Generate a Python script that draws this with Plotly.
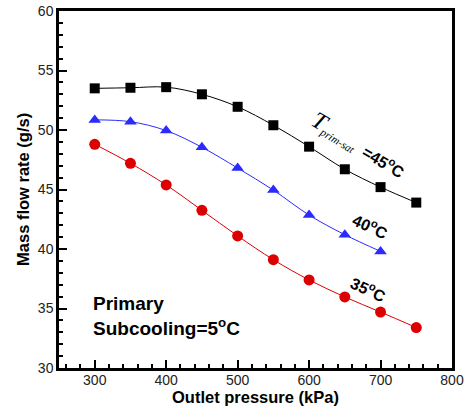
import plotly.graph_objects as go

pressure = [300, 350, 400, 450, 500, 550, 600, 650, 700, 750]
flow_45 = [53.5, 53.55, 53.6, 53.0, 51.95, 50.4, 48.6, 46.7, 45.2, 43.9]
pressure_40 = [300, 350, 400, 450, 500, 550, 600, 650, 700]
flow_40 = [50.85, 50.7, 49.95, 48.55, 46.8, 44.95, 42.85, 41.2, 39.8]
flow_35 = [48.8, 47.2, 45.38, 43.25, 41.1, 39.1, 37.4, 35.97, 34.7, 33.4]

fig = go.Figure()
series = [
    (pressure, flow_45, "black", "square", 10),
    (pressure_40, flow_40, "#2b2bff", "triangle-up", 11),
    (pressure, flow_35, "#dd0000", "circle", 11),
]
for xs, ys, col, sym, sz in series:
    fig.add_trace(go.Scatter(
        x=xs, y=ys, mode="lines+markers",
        line=dict(color=col, width=1, shape="spline", smoothing=1.0),
        marker=dict(color=col, symbol=sym, size=sz),
        showlegend=False, cliponaxis=False))

fig.update_layout(
    width=465, height=406,
    margin=dict(l=59, r=13, t=11, b=38),
    plot_bgcolor="white", paper_bgcolor="white",
    font=dict(family="Liberation Sans, Arial", size=14, color="#222"),
    xaxis=dict(range=[250, 800], dtick=100, tick0=300, automargin=False,
               ticklabeloverflow="allow", ticklabelstandoff=-3,
               ticks="inside", ticklen=8, tickwidth=1.5, tickcolor="black",
               minor=dict(ticks="inside", ticklen=4, dtick=20, tick0=300, tickcolor="black"),
               showline=True, linecolor="black", linewidth=2.5, mirror=True,
               showgrid=False, zeroline=False, tickfont=dict(size=14)),
    yaxis=dict(range=[30, 60], dtick=5, automargin=False,
               ticklabeloverflow="allow",
               ticks="inside", ticklen=8, tickwidth=1.5, tickcolor="black",
               minor=dict(ticks="inside", ticklen=4, dtick=1, tickcolor="black"),
               showline=True, linecolor="black", linewidth=2.5, mirror=True,
               showgrid=False, zeroline=False, tickfont=dict(size=14)),
)

# axis titles
fig.add_annotation(x=0.5, y=-0.08, xref="paper", yref="paper", showarrow=False,
                   xanchor="center", yanchor="middle", text="<b>Outlet pressure (kPa)</b>",
                   font=dict(size=16.5, color="black"))
fig.add_annotation(x=-0.093, y=0.5, xref="paper", yref="paper", showarrow=False,
                   xanchor="center", yanchor="middle",
                   textangle=-90, text="<b>Mass flow rate (g/s)</b>",
                   font=dict(size=16.5, color="black"))

fig.add_annotation(
    x=670, y=48.7, xref="x", yref="y", showarrow=False, textangle=31,
    text="<span style='font-family:Liberation Serif;font-size:24px'><i>T</i></span>"
         "<sub><span style='font-family:Liberation Serif;font-size:11px'><i>prim-sat</i></span></sub>"
         "  <b>=45<sup>o</sup>C</b>",
    font=dict(size=16, color="black", family="Liberation Sans, Arial"))
fig.add_annotation(x=686, y=41.9, xref="x", yref="y", showarrow=False, textangle=25,
                   text="<b>40<sup>o</sup>C</b>", font=dict(size=16, color="black"))
fig.add_annotation(x=683, y=36.6, xref="x", yref="y", showarrow=False, textangle=25,
                   text="<b>35<sup>o</sup>C</b>", font=dict(size=16, color="black"))
fig.add_annotation(x=295, y=34.4, xref="x", yref="y", showarrow=False, xanchor="left", align="left",
                   text="<b>Primary<br>Subcooling=5<sup>o</sup>C</b>", font=dict(size=19, color="black"))

fig.write_html("out.html", config={"displayModeBar": False},
               post_script="document.body.style.margin='0';document.body.style.overflow='hidden';")
